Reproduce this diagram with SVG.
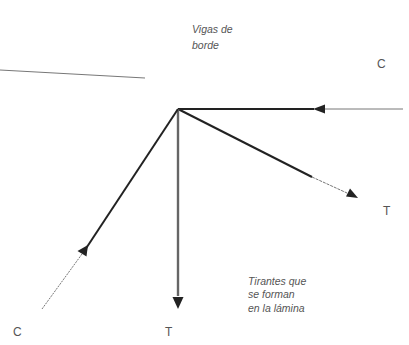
<svg xmlns="http://www.w3.org/2000/svg" width="409" height="345" viewBox="0 0 409 345">
<style>
.lbl{font-family:"Liberation Sans",Arial,sans-serif;fill:#555;}
.it{font-style:italic;font-size:10.5px;}
.big{font-size:12px;}
.thick{stroke:#222;stroke-width:2;fill:none;}
.thin{stroke:#777;stroke-width:1;fill:none;}
.head{fill:#222;}
</style>
<rect width="409" height="345" fill="#fff"/>
<g id="connectors">
<line id="beam" x1="0" y1="70" x2="145" y2="78" class="thin" stroke="#333" stroke-width="1.3"/>
<line x1="178" y1="109" x2="314" y2="109" class="thick"/>
<line x1="324" y1="109" x2="403" y2="109" class="thin"/>
<polygon class="head" points="313,109 325,104.5 325,113.5"/>
<line x1="178" y1="109" x2="312" y2="177" class="thick" stroke-width="1.8"/>
<line x1="312" y1="177" x2="347" y2="193" class="thin" stroke-dasharray="3,1" stroke="#444" stroke-width="1.2"/>
<polygon class="head" points="358,198 346,196.5 350,188.5"/>
<line x1="178" y1="109" x2="178" y2="296" stroke="#666" stroke-width="2.4"/>
<polygon class="head" points="178,309 172.5,297 183.5,297"/>
<line x1="178" y1="109" x2="83" y2="253" class="thick"/>
<polygon class="head" points="88,245 77.5,251 86.5,256.5"/>
<line x1="82" y1="254" x2="42" y2="309" class="thin" stroke-dasharray="2,1"/>
</g>
<g id="label-vigas"><text class="lbl it" x="192" y="33">Vigas de</text><text class="lbl it" x="192" y="49">borde</text></g>
<g id="label-c-top"><text class="lbl big" x="377" y="68">C</text></g>
<g id="label-t-right"><text class="lbl big" x="383" y="215">T</text></g>
<g id="label-tirantes"><text class="lbl it" x="248" y="285">Tirantes que</text><text class="lbl it" x="248" y="298">se forman</text><text class="lbl it" x="248" y="312">en la lámina</text></g>
<g id="label-c-bottom"><text class="lbl big" x="13" y="336">C</text></g>
<g id="label-t-bottom"><text class="lbl big" x="165" y="336">T</text></g>
</svg>
